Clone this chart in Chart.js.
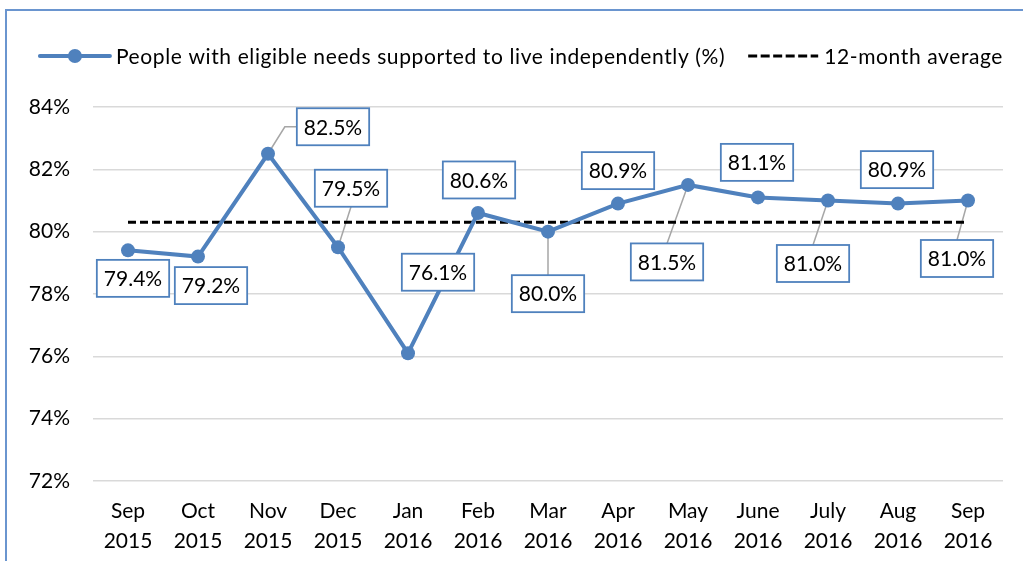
<!DOCTYPE html>
<html><head><meta charset="utf-8">
<script src="https://cdn.jsdelivr.net/npm/chart.js@4.4.0/dist/chart.umd.min.js"></script>
<style>
html,body{margin:0;padding:0;background:#fff;overflow:hidden;}
#wrap{position:absolute;left:0;top:0;width:1023px;height:561px;}
#frame{position:absolute;left:5px;top:9px;width:1100px;height:700px;border:2px solid #6a95cf;box-sizing:border-box;}
canvas{position:absolute;left:0;top:0;}
</style></head><body>
<div id="wrap"><div id="frame"></div><canvas id="c" width="1023" height="561"></canvas></div>
<script>
// ---- data ----
const monthLabels = ['Sep','Oct','Nov','Dec','Jan','Feb','Mar','Apr','May','June','July','Aug','Sep'];
const yearLabels  = ['2015','2015','2015','2015','2016','2016','2016','2016','2016','2016','2016','2016','2016'];
const supportedPct = [79.4, 79.2, 82.5, 79.5, 76.1, 80.6, 80.0, 80.9, 81.5, 81.1, 81.0, 80.9, 81.0];
const averagePct   = [80.3, 80.3, 80.3, 80.3, 80.3, 80.3, 80.3, 80.3, 80.3, 80.3, 80.3, 80.3, 80.3];
const seriesName = 'People with eligible needs supported to live independently (%)';
const averageName = '12-month average';
const yMin = 72, yMax = 84, yStep = 2;

// ---- label placement (style: pixel offsets of each label box from its point) ----
const labelPlacement = [
  {dx:5, dy:28}, {dx:13, dy:29}, {dx:65, dy:-27, leader:'elbow'}, {dx:13, dy:-59, leader:'v'},
  {dx:30, dy:-81, leader:'v'}, {dx:1, dy:-33}, {dx:0, dy:62, leader:'v'}, {dx:0, dy:-33},
  {dx:-21, dy:77, leader:'v'}, {dx:-1, dy:-35}, {dx:-15, dy:63, leader:'v'}, {dx:-1, dy:-34},
  {dx:-11, dy:58, leader:'v'}
];

const FONT = 'Lato';
const FS = 21;
const BLUE = '#4f81bd';

function boxFor(chart, i) {
  const meta = chart.getDatasetMeta(0);
  const pt = meta.data[i];
  const ctx = chart.ctx;
  ctx.save();
  ctx.font = FS + 'px ' + FONT;
  const text = supportedPct[i].toFixed(1) + '%';
  const w = ctx.measureText(text).width + 14;
  ctx.restore();
  const h = 37;
  const p = labelPlacement[i];
  const cx = pt.x + p.dx, cy = pt.y + p.dy;
  return {text, px: pt.x, py: pt.y, cx, cy, l: cx - w/2, r: cx + w/2, t: cy - h/2, b: cy + h/2, w, h, leader: p.leader};
}

const labelPlugin = {
  id: 'boxLabels',
  beforeDatasetsDraw(chart) {
    const ctx = chart.ctx;
    ctx.save();
    ctx.strokeStyle = '#a6a6a6';
    ctx.lineWidth = 1.5;
    supportedPct.forEach((v, i) => {
      const b = boxFor(chart, i);
      if (!b.leader) return;
      ctx.beginPath();
      ctx.moveTo(b.px, b.py);
      if (b.leader === 'elbow') {
        ctx.lineTo(b.l - 12, b.cy);
        ctx.lineTo(b.l, b.cy);
      } else {
        const ey = b.cy > b.py ? b.t : b.b;
        ctx.lineTo(b.cx, ey);
      }
      ctx.stroke();
    });
    ctx.restore();
  },
  afterDatasetsDraw(chart) {
    const ctx = chart.ctx;
    ctx.save();
    supportedPct.forEach((v, i) => {
      const b = boxFor(chart, i);
      ctx.fillStyle = '#fff';
      ctx.fillRect(b.l, b.t, b.w, b.h);
      ctx.strokeStyle = BLUE;
      ctx.lineWidth = 1.8;
      ctx.strokeRect(b.l, b.t, b.w, b.h);
      ctx.fillStyle = '#000';
      ctx.font = FS + 'px ' + FONT;
      ctx.textAlign = 'center';
      ctx.textBaseline = 'middle';
      ctx.fillText(b.text, b.cx, b.cy + 1);
    });
    ctx.restore();
  }
};

const legendPlugin = {
  id: 'customLegend',
  afterDraw(chart) {
    const ctx = chart.ctx;
    ctx.save();
    ctx.font = FS + 'px ' + FONT;
    const base1 = ctx.measureText(seriesName).width;
    const spacing = Math.max(0, (609 - base1) / seriesName.length);
    if ('letterSpacing' in ctx) ctx.letterSpacing = spacing.toFixed(2) + 'px';
    const t1 = ctx.measureText(seriesName).width;
    const t2 = ctx.measureText(averageName).width;
    const sample = 70, gap = 6, between = 23;
    const total = sample + gap + t1 + between + sample + gap + t2;
    let x = 521.5 - total / 2;
    const y = 56;
    // series sample
    ctx.strokeStyle = BLUE; ctx.lineWidth = 4; ctx.lineCap = 'round';
    ctx.beginPath(); ctx.moveTo(x, y); ctx.lineTo(x + sample, y); ctx.stroke();
    ctx.fillStyle = BLUE;
    ctx.beginPath(); ctx.arc(x + sample/2, y, 7, 0, Math.PI*2); ctx.fill();
    x += sample + gap;
    ctx.fillStyle = '#000'; ctx.textBaseline = 'middle'; ctx.textAlign = 'left';
    ctx.fillText(seriesName, x, y + 1);
    x += t1 + between;
    ctx.strokeStyle = '#000'; ctx.lineWidth = 3; ctx.lineCap = 'butt';
    ctx.setLineDash([9, 3.5]);
    ctx.beginPath(); ctx.moveTo(x, y); ctx.lineTo(x + sample, y); ctx.stroke();
    ctx.setLineDash([]);
    x += sample + gap;
    ctx.fillText(averageName, x, y + 1);
    ctx.restore();
  }
};

new Chart(document.getElementById('c'), {
  type: 'line',
  data: {
    labels: monthLabels.map((m, i) => [m, yearLabels[i]]),
    datasets: [
      {
        label: seriesName,
        data: supportedPct,
        borderColor: BLUE,
        backgroundColor: BLUE,
        borderWidth: 4,
        pointRadius: 7,
        pointHoverRadius: 7,
        pointBackgroundColor: BLUE,
        pointBorderWidth: 0,
        tension: 0,
        order: 1
      },
      {
        label: averageName,
        data: averagePct,
        borderColor: '#000',
        borderWidth: 3,
        borderDash: [8, 4],
        pointRadius: 0,
        tension: 0,
        order: 2
      }
    ]
  },
  options: {
    responsive: false,
    animation: false,
    devicePixelRatio: 1,
    layout: { padding: { left: 0, right: 20, top: 107, bottom: 0 } },
    plugins: { legend: { display: false }, tooltip: { enabled: false } },
    scales: {
      x: {
        offset: true,
        grid: { display: false, drawTicks: false },
        border: { display: false },
        ticks: { color: '#000', font: { family: FONT, size: FS, lineHeight: 1.43 }, padding: 15, maxRotation: 0, autoSkip: false },
        afterFit(s) { s.height = 80; }
      },
      y: {
        min: yMin, max: yMax,
        grid: { color: '#d9d9d9', lineWidth: 1.5, drawTicks: false },
        border: { display: false },
        ticks: { stepSize: yStep, color: '#000', font: { family: FONT, size: FS }, padding: 23, callback: v => v + '%' },
        afterFit(s) { s.width = 93; }
      }
    }
  },
  plugins: [labelPlugin, legendPlugin]
});
</script>
</body></html>
